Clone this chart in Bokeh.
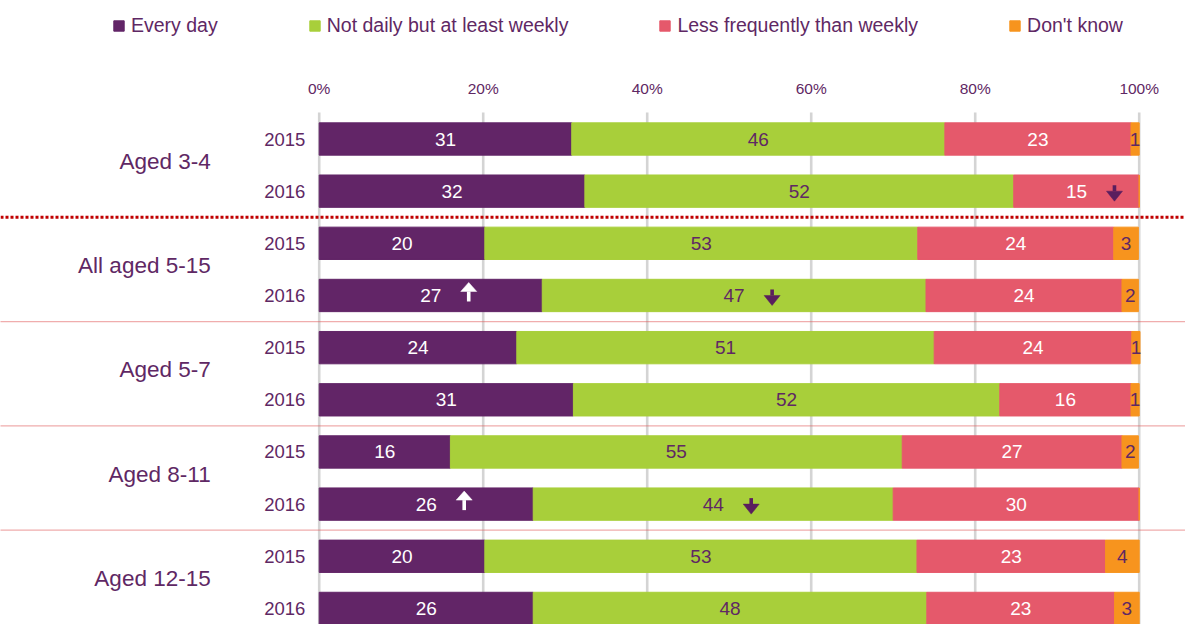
from bokeh.plotting import figure
from bokeh.models import (ColumnDataSource, Range1d, LinearAxis, FixedTicker,
                          PrintfTickFormatter, Span, Legend)
from bokeh.core.properties import value
from bokeh.embed import file_html
from bokeh.resources import INLINE

# ---------------- data ----------------
groups = ["Aged 3-4", "All aged 5-15", "Aged 5-7", "Aged 8-11", "Aged 12-15"]
years = ["2015", "2016"]
series_names = ["Every day", "Not daily but at least weekly",
                "Less frequently than weekly", "Don't know"]
every_day = [30.8, 32.4, 20.2, 27.2, 24.1, 31.0, 16.0, 26.1, 20.2, 26.1]
weekly = [45.5, 52.3, 52.8, 46.8, 50.9, 52.0, 55.1, 43.9, 52.7, 48.0]
less_often = [22.7, 15.3, 23.9, 23.9, 24.1, 16.0, 26.8, 30.0, 23.0, 22.9]
dont_know = [1.0, 0.0, 3.0, 2.0, 1.0, 1.0, 2.0, 0.0, 4.1, 3.0]
# significant changes vs 2015: (group, year, series index, direction)
changes = [
    ("Aged 3-4", "2016", 2, "down"),
    ("All aged 5-15", "2016", 0, "up"),
    ("All aged 5-15", "2016", 1, "down"),
    ("Aged 8-11", "2016", 0, "up"),
    ("Aged 8-11", "2016", 1, "down"),
]
ticks = [0, 20, 40, 60, 80, 100]

# ---------------- style ----------------
PURPLE = "#622567"
GREEN = "#a8cf3a"
RED = "#e5596b"
ORANGE = "#f7941e"
TEXT = "#5f2864"
colors = [PURPLE, GREEN, RED, ORANGE]
label_colors = ["white", TEXT, "white", TEXT]
arrow_colors = {"up": "white", "down": "#5a1e5e"}
FONT = "Liberation Sans"

W, H = 1185, 624
PX_PER_PCT = 8.2           # pixels per percentage point
ROW_PX = 52.16             # pixels per row
X0_PX = 318.7              # 0% position from figure left
ROW0_PX = 138.5            # first row centre from figure top
GRID_TOP_PX = 112          # top of grid lines from figure top

x_start = -X0_PX / PX_PER_PCT
x_end = x_start + W / PX_PER_PCT
y_top = -ROW0_PX / ROW_PX
y_bottom = y_top + H / ROW_PX
grid_top = y_top + GRID_TOP_PX / ROW_PX

rows = [(g, yr) for g in groups for yr in years]
ypos = list(range(len(rows)))

p = figure(width=W, height=H, x_range=Range1d(x_start, x_end),
           y_range=Range1d(y_bottom, y_top), x_axis_type=None, y_axis_type=None,
           toolbar_location=None, output_backend="svg", min_border=0,
           outline_line_color=None, background_fill_color="white",
           border_fill_color="white")

# grid lines
p.segment(x0=ticks, y0=[grid_top] * len(ticks), x1=ticks, y1=[y_bottom] * len(ticks),
          line_color="#d4d4d4", line_width=2.6)

# axis with percent labels
ax = LinearAxis(ticker=FixedTicker(ticks=ticks),
                formatter=PrintfTickFormatter(format="%d%%"),
                fixed_location=grid_top, axis_line_color=None,
                major_tick_line_color=None, minor_tick_line_color=None,
                major_label_text_font=FONT, major_label_text_font_size="15.5px",
                major_label_text_color=TEXT, major_label_standoff=10)
p.add_layout(ax, "above")

# bars
src = ColumnDataSource(dict(y=ypos, every=every_day, weekly=weekly,
                            less=less_often, dk=dont_know))
renderers = p.hbar_stack(["every", "weekly", "less", "dk"], y="y", height=0.62,
                         color=colors, source=src)

# value labels
lx, ly, lt, lc = [], [], [], []
for i in range(len(rows)):
    vals = [every_day[i], weekly[i], less_often[i], dont_know[i]]
    left = 0.0
    for k, v in enumerate(vals):
        if round(v) >= 1:
            lx.append(left + v / 2)
            ly.append(i)
            lt.append(str(int(round(v))))
            lc.append(label_colors[k])
        left += v
p.text(x="x", y="y", text="t", text_color="c",
       source=ColumnDataSource(dict(x=lx, y=ly, t=lt, c=lc)),
       text_align="center", text_baseline="middle",
       text_font=value(FONT), text_font_size="19px")

# significance arrows (stem + triangular head)
ARROW_DX = 38 / PX_PER_PCT
HEAD_HW = 8 / PX_PER_PCT
U = 1 / ROW_PX
# vertical geometry in px relative to row centre: (stem_end, head_base, apex)
ARROW_GEOM = {"up": (6, -4, -13), "down": (-6, 0, 10)}
row_index = {r: i for i, r in enumerate(rows)}
sx, sy0, sy1, scol, pxs, pys = [], [], [], [], [], []
for g, yr, k, d in changes:
    i = row_index[(g, yr)]
    vals = [every_day[i], weekly[i], less_often[i], dont_know[i]]
    cx = sum(vals[:k]) + vals[k] / 2 + ARROW_DX
    stem_end, base, apex = ARROW_GEOM[d]
    sx.append(cx)
    sy0.append(i + stem_end * U)
    sy1.append(i + base * U)
    scol.append(arrow_colors[d])
    pxs.append([cx - HEAD_HW, cx + HEAD_HW, cx])
    pys.append([i + base * U, i + base * U, i + apex * U])
asrc = ColumnDataSource(dict(x=sx, y0=sy0, y1=sy1, c=scol, xs=pxs, ys=pys))
p.segment(x0="x", y0="y0", x1="x", y1="y1", line_color="c", line_width=3.6,
          source=asrc)
p.patches(xs="xs", ys="ys", fill_color="c", line_color="c", line_width=0.5,
          source=asrc)

# year labels
YEAR_X = -13.8 / PX_PER_PCT
p.text(x=[YEAR_X] * len(rows), y=ypos, text=[r[1] for r in rows],
       text_align="right", text_baseline="middle", text_color=TEXT,
       text_font=value(FONT), text_font_size="18.5px")

# group labels
GROUP_X = -108.5 / PX_PER_PCT
p.text(x=[GROUP_X] * len(groups), y=[2 * g + 0.5 for g in range(len(groups))],
       text=groups, y_offset=-4, text_align="right", text_baseline="middle",
       text_color=TEXT, text_font=value(FONT), text_font_size="22.5px")

# separators
for g in range(1, len(groups)):
    if g == 1:
        sp = Span(location=2 * g - 0.5, dimension="width", line_color="#c00000",
                  line_width=3, line_dash="3 2")
    else:
        sp = Span(location=2 * g - 0.5, dimension="width", line_color="#e05a5a",
                  line_width=1.2, line_dash="1 1")
    p.add_layout(sp)

legend = Legend(items=[(n, [r]) for n, r in zip(series_names, renderers)],
                orientation="horizontal", location=(112, 587), margin=0, padding=0,
                spacing=90, glyph_width=13, glyph_height=13, label_standoff=6,
                label_text_font=FONT, label_text_font_size="19.5px",
                label_text_color=TEXT, border_line_color=None,
                background_fill_alpha=0)
p.add_layout(legend)

open("out.html", "w").write(file_html(p, INLINE))
